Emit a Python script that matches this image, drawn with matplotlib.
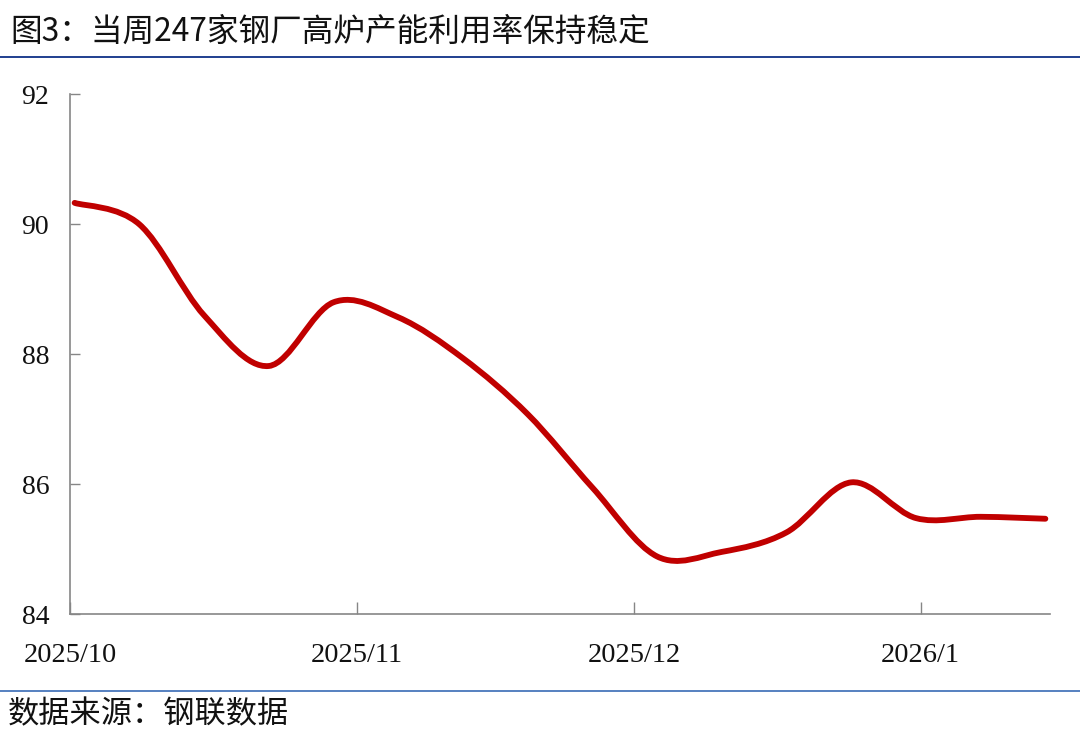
import matplotlib
matplotlib.use('Agg')
import matplotlib.pyplot as plt
import matplotlib.dates as mdates
from matplotlib.path import Path
from matplotlib.patches import PathPatch
from matplotlib.lines import Line2D
import numpy as np
import datetime as dt

plt.rcParams['font.family'] = ['Noto Sans CJK SC', 'DejaVu Sans']

# weekly readings (Thursdays)
dates = ['2025-10-09', '2025-10-16', '2025-10-23', '2025-10-30', '2025-11-06',
         '2025-11-13', '2025-11-20', '2025-11-27', '2025-12-04', '2025-12-11',
         '2025-12-18', '2025-12-25', '2026-01-01', '2026-01-08', '2026-01-15',
         '2026-01-22']
values = [90.33, 90.00, 88.60, 87.82, 88.80, 88.57, 87.94, 87.08,
          85.95, 84.89, 84.96, 85.26, 86.03, 85.48, 85.50, 85.47]
tick_dates = ['2025-10-09', '2025-11-09', '2025-12-09', '2026-01-09']
tick_labels = ['2025/10', '2025/11', '2025/12', '2026/1']
y_ticks = [84, 86, 88, 90, 92]

title = '图3：当周247家钢厂高炉产能利用率保持稳定'
source = '数据来源：钢联数据'

def d2n(s):
    return mdates.date2num(dt.datetime.strptime(s, '%Y-%m-%d'))

# points sit in the middle of each day slot (Excel date axis)
x = np.array([d2n(d) + 0.5 for d in dates])
y = np.array(values)

fig = plt.figure(figsize=(10.8, 7.49), dpi=100, facecolor='white')
ax = fig.add_axes([70 / 1080, 1 - 614.3 / 749, 980 / 1080, 520 / 749])
ax.set_facecolor('white')

# smoothed line like Excel: Catmull-Rom converted to cubic bezier
pts = np.column_stack([x, y])
verts = [pts[0]]
codes = [Path.MOVETO]
n = len(pts)
for i in range(n - 1):
    p0 = pts[i - 1] if i > 0 else pts[i]
    p1 = pts[i]
    p2 = pts[i + 1]
    p3 = pts[i + 2] if i + 2 < n else pts[i + 1]
    c1 = p1 + (p2 - p0) / 6
    c2 = p2 - (p3 - p1) / 6
    verts += [c1, c2, p2]
    codes += [Path.CURVE4] * 3
patch = PathPatch(Path(verts, codes), facecolor='none', edgecolor='#C00000',
                  lw=4.2, capstyle='round', joinstyle='round')
ax.add_patch(patch)

ax.set_xlim(d2n('2025-10-09'), d2n('2026-01-23'))
ax.set_ylim(84, 92)
ax.set_yticks(y_ticks)
ax.set_xticks([d2n(d) for d in tick_dates])
ax.set_xticklabels(tick_labels)

for s in ['top', 'right']:
    ax.spines[s].set_visible(False)
for s in ['left', 'bottom']:
    ax.spines[s].set_color('#868686')
    ax.spines[s].set_linewidth(1.2)

ax.tick_params(axis='y', direction='in', length=7.5, width=1, color='#868686', pad=15)
ax.tick_params(axis='x', direction='in', length=9, width=1, color='#868686', pad=21)
for lab in ax.get_yticklabels():
    lab.set_fontfamily('Liberation Serif')
    lab.set_fontsize(20)
    lab.set_color('#111111')
for lab in ax.get_xticklabels():
    lab.set_fontfamily('Liberation Serif')
    lab.set_fontsize(20.5)
    lab.set_color('#111111')

fig.text(10 / 1080, 1 - 32 / 749, title, fontsize=22.8, va='center', ha='left', color='#111111')
fig.text(8 / 1080, 1 - 714 / 749, source, fontsize=22.5, va='center', ha='left', color='#111111')

fig.add_artist(Line2D([0, 1], [1 - 57 / 749, 1 - 57 / 749], transform=fig.transFigure,
                      color='#1F3F8F', lw=1.4))
fig.add_artist(Line2D([0, 1], [1 - 690.7 / 749, 1 - 690.7 / 749], transform=fig.transFigure,
                      color='#5580C0', lw=1.4))

fig.savefig('out.png', dpi=100, facecolor='white')
